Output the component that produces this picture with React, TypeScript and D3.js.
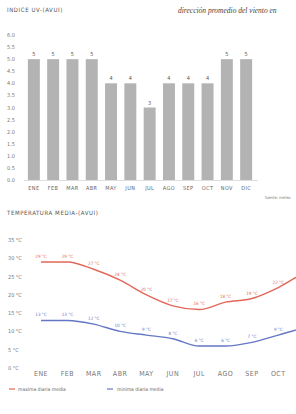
import React from "react";
import * as d3 from "d3";

// data
const months = ["ENE", "FEB", "MAR", "ABR", "MAY", "JUN", "JUL", "AGO", "SEP", "OCT", "NOV", "DIC"];
const uvIndex = [5, 5, 5, 5, 4, 4, 3, 4, 4, 4, 5, 5];
const uvTicks = [0, 0.5, 1, 1.5, 2, 2.5, 3, 3.5, 4, 4.5, 5, 5.5, 6];
const maxTemp = [29, 29, 27, 24, 20, 17, 16, 18, 19, 22, 26, 28];
const minTemp = [13, 13, 12, 10, 9, 8, 6, 6, 7, 9, 11, 12];
const tempTicks = [0, 5, 10, 15, 20, 25, 30, 35];

const FONT = "'Liberation Sans Narrow', 'DejaVu Sans Condensed', sans-serif";
const RED = "#e2675a";
const BLUE = "#6477c4";

const App = () => {
  const W = 296,
    H = 414;

  // UV bar chart scales
  const xBar = d3.scaleBand<string>().domain(months).range([24, 256]).paddingInner(0.38).paddingOuter(0.2);
  const yBar = d3.scaleLinear().domain([0, 6]).range([180, 35]);

  // temperature line chart scales (runs past the right edge, like the reference)
  const xT = d3.scalePoint<string>().domain(months).range([41, 331]);
  const yT = d3.scaleLinear().domain([0, 35]).range([368, 240]);
  const visible = (m: string) => (xT(m) as number) < W - 8;

  const line = d3
    .line<number>()
    .x((d, i) => xT(months[i]) as number)
    .y((d) => yT(d))
    .curve(d3.curveMonotoneX);

  return (
    <div>
      <style>{"body{margin:0}"}</style>
      <svg width={W} height={H} style={{ display: "block", background: "#fff" }} fontFamily={FONT}>
        {/* titles */}
        <text x={7} y={12} fontSize={6} letterSpacing={0.6} fill="#555">
          INDICE UV-(AVUI)
        </text>
        <text x={178} y={13} fontSize={7.5} fontStyle="italic" fontFamily="'Liberation Serif', serif" fill="#444">
          dirección promedio del viento en
        </text>

        {/* UV y axis labels */}
        {uvTicks.map((t) => (
          <text key={t} x={7} y={yBar(t) + 2} fontSize={5.5} fill="#777">
            {t.toFixed(1)}
          </text>
        ))}

        {/* bars */}
        {uvIndex.map((v, i) => (
          <g key={months[i]}>
            <rect
              x={xBar(months[i])}
              y={yBar(v)}
              width={xBar.bandwidth()}
              height={yBar(0) - yBar(v)}
              fill="#b3b3b3"
            />
            <text
              x={(xBar(months[i]) as number) + xBar.bandwidth() / 2}
              y={yBar(v) - 3}
              fontSize={5.5}
              textAnchor="middle"
              fill="#555"
            >
              {v}
            </text>
            <text
              x={(xBar(months[i]) as number) + xBar.bandwidth() / 2}
              y={190}
              fontSize={5.5}
              letterSpacing={0.4}
              textAnchor="middle"
              fill="#666"
            >
              {months[i]}
            </text>
          </g>
        ))}
        <line x1={24} x2={258} y1={yBar(0) + 0.5} y2={yBar(0) + 0.5} stroke="#ddd" strokeWidth={1} />
        <text x={265} y={199} fontSize={4} fill="#777">
          fuente: meteo
        </text>

        {/* temperature chart */}
        <text x={7} y={215} fontSize={6} letterSpacing={0.6} fill="#555">
          TEMPERATURA MEDIA-(AVUI)
        </text>
        {tempTicks.map((t) => (
          <text key={t} x={8} y={yT(t) + 2} fontSize={5.5} fill="#777">
            {t} °C
          </text>
        ))}
        {months.filter(visible).map((m) => (
          <text key={m} x={xT(m)} y={376} fontSize={7} letterSpacing={0.5} textAnchor="middle" fill="#777">
            {m}
          </text>
        ))}

        <path d={line(maxTemp) || ""} fill="none" stroke={RED} strokeWidth={1.4} />
        <path d={line(minTemp) || ""} fill="none" stroke={BLUE} strokeWidth={1.4} />

        {maxTemp.map((v, i) =>
          visible(months[i]) ? (
            <text key={"mx" + i} x={xT(months[i])} y={yT(v) - 4} fontSize={4.5} textAnchor="middle" fill={RED}>
              {v} °C
            </text>
          ) : null
        )}
        {minTemp.map((v, i) =>
          visible(months[i]) ? (
            <text key={"mn" + i} x={xT(months[i])} y={yT(v) - 4} fontSize={4.5} textAnchor="middle" fill={BLUE}>
              {v} °C
            </text>
          ) : null
        )}

        {/* legend */}
        <line x1={9} x2={15} y1={389} y2={389} stroke={RED} strokeWidth={1.2} />
        <text x={18} y={391} fontSize={5} fill="#666">
          maxima diaria media
        </text>
        <line x1={107} x2={113} y1={389} y2={389} stroke={BLUE} strokeWidth={1.2} />
        <text x={117} y={391} fontSize={5} fill="#666">
          minima diaria media
        </text>
      </svg>
    </div>
  );
};

export default App;
